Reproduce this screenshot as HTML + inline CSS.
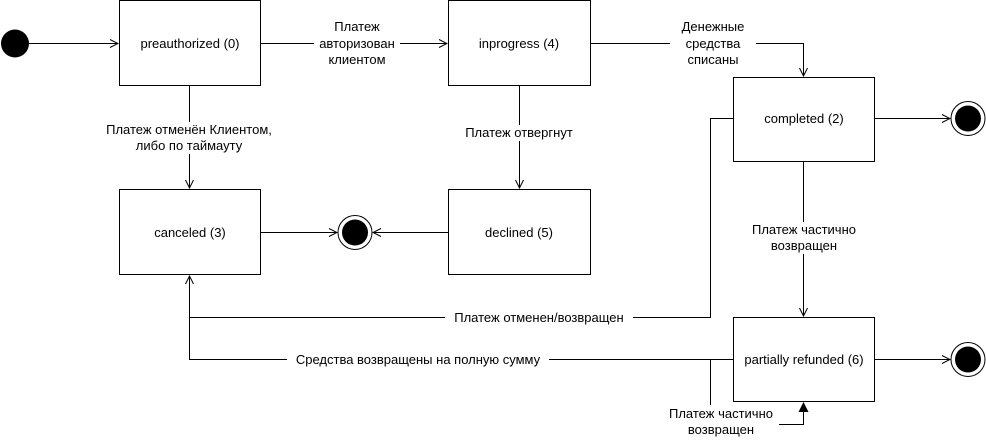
<!DOCTYPE html>
<html><head><meta charset="utf-8"><style>
body{margin:0;background:#fff}
svg{display:block}
text{font-family:"Liberation Sans",Arial,sans-serif;font-size:13px;fill:#000}
</style></head><body>
<svg width="986" height="441" viewBox="0 0 986 441" xmlns="http://www.w3.org/2000/svg">
<defs>
<marker id="a" markerWidth="10" markerHeight="10" refX="9" refY="5" orient="auto" markerUnits="userSpaceOnUse">
<path d="M1,1 L9,5 L1,9" fill="none" stroke="#000" stroke-width="1"/></marker>
<marker id="f" markerWidth="10" markerHeight="12" refX="9" refY="5" orient="auto" markerUnits="userSpaceOnUse">
<path d="M0,0 L10,5 L0,10 Z" fill="#000"/></marker>
</defs>
<g stroke="#000" stroke-width="1" fill="none">
<rect x="119.5" y="0.5" width="141" height="85"/>
<rect x="448.5" y="0.5" width="142" height="85"/>
<rect x="733.5" y="77.5" width="141" height="84"/>
<rect x="119.5" y="189.5" width="141" height="85"/>
<rect x="448.5" y="189.5" width="142" height="85"/>
<rect x="733.5" y="317.5" width="141" height="84"/>
<path d="M29,43.5 H118" marker-end="url(#a)"/>
<path d="M261,43.5 H447" marker-end="url(#a)"/>
<path d="M591,43.5 H803.5 V76" marker-end="url(#a)"/>
<path d="M189.5,86 V188" marker-end="url(#a)"/>
<path d="M519.5,86 V188" marker-end="url(#a)"/>
<path d="M261,232.5 H337" marker-end="url(#a)"/>
<path d="M448,232.5 H373" marker-end="url(#a)"/>
<path d="M875,118.5 H950" marker-end="url(#a)"/>
<path d="M875,359.5 H950" marker-end="url(#a)"/>
<path d="M803.5,162 V316" marker-end="url(#a)"/>
<path d="M733,118.5 H710.5 V317.5 H189.5 V276" marker-end="url(#a)"/>
<path d="M733,359.5 H189.5 V317"/>
<path d="M710.5,359.5 V410"/>
<path d="M779,424.5 H803.5 V403" marker-end="url(#f)"/>
</g>
<circle cx="15" cy="43.5" r="14" fill="#000"/>
<circle cx="355" cy="232.5" r="17" fill="#fff" stroke="#000"/><circle cx="355" cy="232.5" r="13" fill="#000"/>
<circle cx="968" cy="118.5" r="17" fill="#fff" stroke="#000"/><circle cx="968" cy="118.5" r="13" fill="#000"/>
<circle cx="968" cy="359.5" r="17" fill="#fff" stroke="#000"/><circle cx="968" cy="359.5" r="13" fill="#000"/>
<g text-anchor="middle">
<text x="190" y="48">preauthorized (0)</text>
<text x="519" y="48">inprogress (4)</text>
<text x="804" y="123">completed (2)</text>
<text x="190" y="237">canceled (3)</text>
<text x="519" y="237">declined (5)</text>
<text x="804" y="364">partially refunded (6)</text>
</g>
<g fill="#fff">
<rect x="314" y="18" width="86" height="46"/>
<rect x="670" y="18" width="86" height="46"/>
<rect x="98" y="122" width="183" height="32"/>
<rect x="455" y="125" width="128" height="16"/>
<rect x="742" y="222" width="124" height="32"/>
<rect x="445" y="310" width="188" height="16"/>
<rect x="287" y="352" width="262" height="16"/>
<rect x="664" y="405" width="115" height="34"/>
</g>
<g text-anchor="middle">
<text x="357" y="31">Платеж</text><text x="357" y="48">авторизован</text><text x="357" y="64">клиентом</text>
<text x="713" y="31">Денежные</text><text x="713" y="48">средства</text><text x="713" y="64">списаны</text>
<text x="189" y="134">Платеж отменён Клиентом,</text><text x="189" y="150">либо по таймауту</text>
<text x="519" y="137">Платеж отвергнут</text>
<text x="804" y="234">Платеж частично</text><text x="804" y="250">возвращен</text>
<text x="539" y="322">Платеж отменен/возвращен</text>
<text x="418" y="364">Средства возвращены на полную сумму</text>
<text x="721" y="418">Платеж частично</text><text x="721" y="434">возвращен</text>
</g>
</svg>
</body></html>
